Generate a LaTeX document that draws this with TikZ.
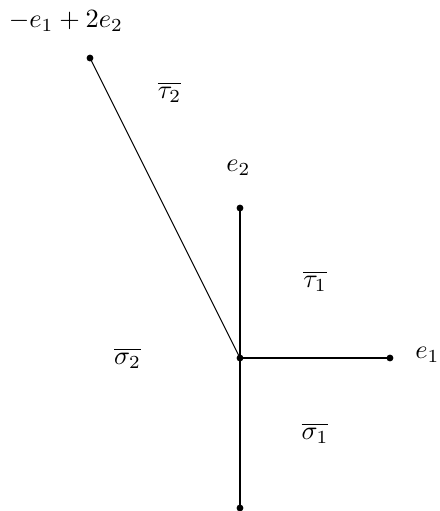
\documentclass[tikz,border=0pt]{standalone}
\usepackage{amsmath,amssymb,amsfonts}
\usepackage{xcolor}
\usepackage{tikz}
\usetikzlibrary{positioning,calc}

\begin{document}
\begin{tikzpicture}[scale=2, dot/.style={circle, fill=black, inner sep=0pt, minimum size=2.6pt}]
		\useasboundingbox (-1.6,-1.02) rectangle (1.333,2.387);
		\node[dot] (0) at (0,0) {};
		\node[dot] (e1) at (1,0) {};
		\node[dot] (e2) at (0,1) {};
		\node[dot] (m) at (0,-1) {};
		\node[dot] (v) at (-1,2) {};
		\draw (0.center) -- (e1.center);
		\draw (0.center) -- (e2.center);
		\draw (0.center) -- (m.center);
		\draw (0.center) -- (v.center);

		\node at (1.25,0.02) {$e_1$};
		\node at (-0.01,1.27) {$e_2$};
		\node at (-1.16,2.25) {$-e_1+2e_2$};
		\node at (0.5,0.51) {$\overline{\tau_1}$};
		\node at (-0.47,1.77) {$\overline{\tau_2}$};
		\node at (0.5,-0.5) {$\overline{\sigma_1}$};
		\node at (-0.75,0) {$\overline{\sigma_2}$};
	\end{tikzpicture}
\end{document}
